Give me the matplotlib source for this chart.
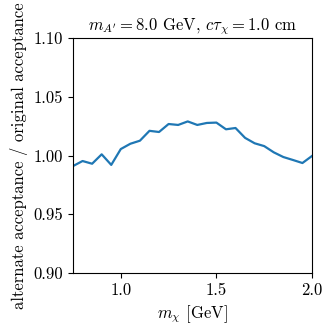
import matplotlib
matplotlib.use("Agg")
import matplotlib.pyplot as plt

plt.rcParams['font.family'] = 'serif'
plt.rcParams['font.serif'] = ['cmr10']
plt.rcParams['mathtext.fontset'] = 'cm'
plt.rcParams['axes.formatter.use_mathtext'] = True
plt.rcParams['font.size'] = 12

m_chi = [0.75, 0.80, 0.85, 0.90, 0.95, 1.00, 1.05, 1.10, 1.15, 1.20, 1.25, 1.30, 1.35,
         1.40, 1.45, 1.50, 1.55, 1.60, 1.65, 1.70, 1.75, 1.80, 1.85, 1.90, 1.95, 2.00]
ratio = [0.991, 0.9953, 0.993, 1.001, 0.992, 1.0055, 1.010, 1.0126, 1.021, 1.020, 1.0268,
         1.026, 1.029, 1.026, 1.0277, 1.028, 1.0223, 1.0234, 1.015, 1.0104, 1.008, 1.0027,
         0.9987, 0.9962, 0.9936, 0.9996]

fig = plt.figure(figsize=(3.32, 3.35), dpi=100)
ax = fig.add_axes([73/332, 1-273/335, (312-73)/332, (273-38)/335])
ax.plot(m_chi, ratio, color='#1f77b4', lw=1.6)
ax.set_xlim(0.75, 2.0)
ax.set_ylim(0.90, 1.10)
ax.set_xticks([1.0, 1.5, 2.0])
ax.set_yticks([0.90, 0.95, 1.00, 1.05, 1.10])
ax.set_xticklabels(['1.0', '1.5', '2.0'])
ax.set_yticklabels(['0.90', '0.95', '1.00', '1.05', '1.10'])
ax.set_xlabel(r'$m_\chi$ [GeV]', labelpad=4)
ax.set_ylabel('alternate acceptance / original acceptance', labelpad=4)
ax.set_title(r"$m_{A'} = 8.0$ GeV, $c\tau_\chi = 1.0$ cm", fontsize=12, pad=6)
fig.savefig('out.png', dpi=100)
